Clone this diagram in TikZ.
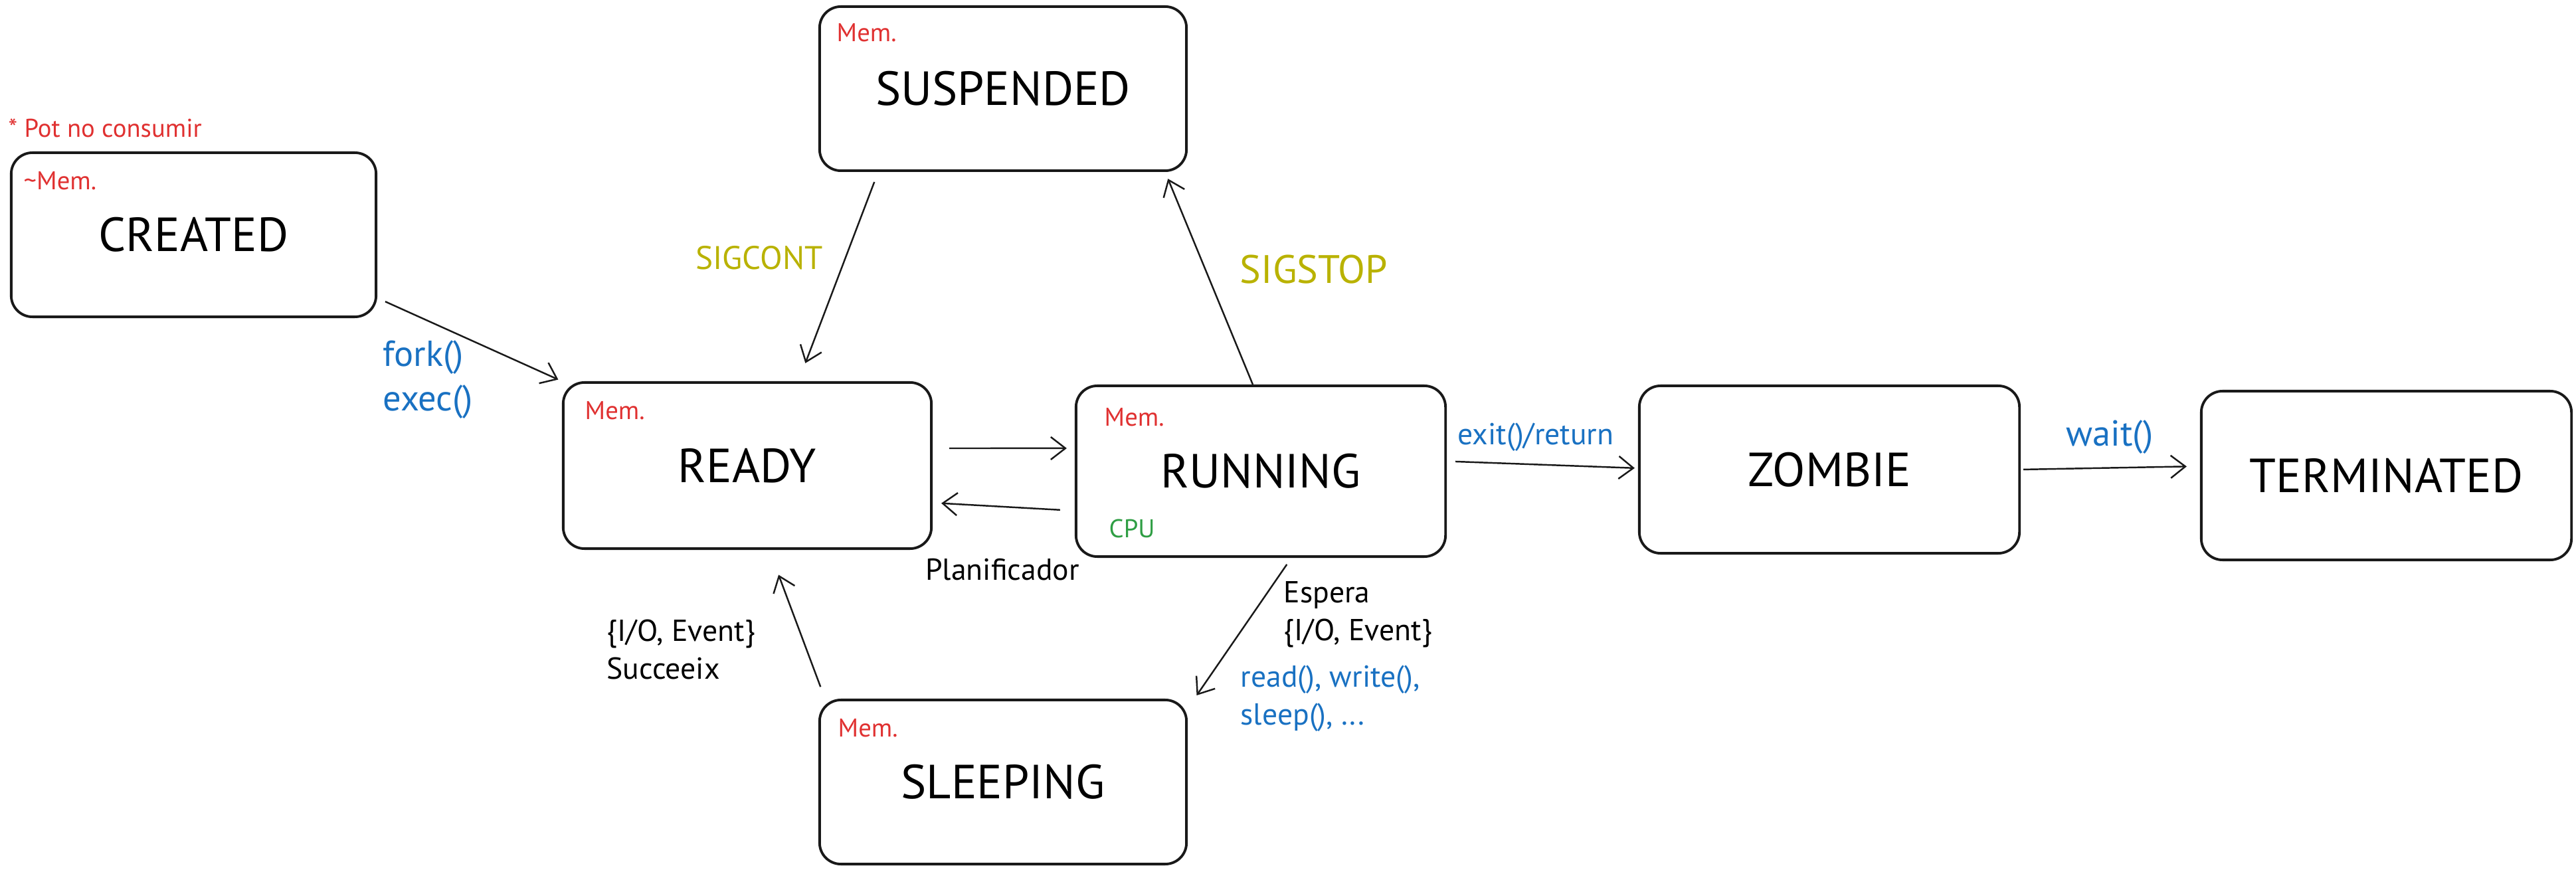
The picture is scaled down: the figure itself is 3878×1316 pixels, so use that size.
\documentclass[tikz,border=0pt]{standalone}
\usepackage{fontspec}
\setmainfont{PT Sans}
\usetikzlibrary{arrows.meta}
\definecolor{memred}{HTML}{E03131}
\definecolor{callblue}{HTML}{1971C2}
\definecolor{cpugreen}{HTML}{2F9E44}
\definecolor{sigyellow}{RGB}{185,178,0}
\begin{document}
\begin{tikzpicture}[x=0.01cm, y=-0.01cm,
		state/.style={draw=black!90, line width=1.1pt, rounded corners=0.32cm, minimum width=5.52cm, minimum height=2.48cm, font=\fontsize{20.5}{24}\selectfont},
		mem/.style={anchor=west, inner sep=0pt, text=memred, font=\fontsize{11}{13}\selectfont},
		lbl/.style={inner sep=0pt, align=left, font=\fontsize{13}{16.2}\selectfont},
		biglbl/.style={inner sep=0pt, align=left, font=\fontsize{15.5}{19}\selectfont},
		trans/.style={-{Straight Barb[length=0.22cm, width=0.34cm]}, line width=0.7pt, draw=black!90}]
		\useasboundingbox (0,0) rectangle (3878,1316);

		\node[state, minimum width=5.49cm, minimum height=2.47cm] (created) at (291.5,353.5) {CREATED};
		\node[state, minimum height=2.47cm] (suspended) at (1510,133.5) {SUSPENDED};
		\node[state, minimum width=5.54cm, minimum height=2.5cm] (ready) at (1125,701) {READY};
		\node[state, minimum width=5.56cm, minimum height=2.57cm] (running) at (1898,709.5) {RUNNING};
		\node[state, minimum width=5.72cm, minimum height=2.52cm] (zombie) at (2754,707) {ZOMBIE};
		\node[state, minimum width=5.57cm, minimum height=2.54cm] (terminated) at (3592.5,716) {TERMINATED};
		\node[state, minimum height=2.47cm] (sleeping) at (1510,1177.5) {SLEEPING};

		\node[mem] (note) at (12,193) {* Pot no consumir};
		\node[mem] (creatmem) at (35,272) {\textasciitilde Mem.};
		\node[mem] (suspmem) at (1259,49) {Mem.};
		\node[mem] (readymem) at (880,618) {Mem.};
		\node[mem] (runmem) at (1662,628) {Mem.};
		\node[mem, text=cpugreen] (runcpu) at (1669,796) {CPU};
		\node[mem] (sleepmem) at (1261,1096) {Mem.};

		\draw[trans, shorten <=0.13cm, shorten >=0.06cm] (created.-19) -- (ready.north west);
		\draw[trans, shorten <=0.16cm, shorten >=0.29cm] ([xshift=0.9cm]suspended.south west) -- ([xshift=0.77cm]ready.north);
		\draw[trans, shorten >=0.11cm] ([xshift=-0.12cm]running.north) -- ([xshift=-0.34cm]suspended.south east);
		\draw[trans, shorten <=0.25cm, shorten >=0.12cm] ([yshift=0.26cm]ready.east) -- ([yshift=0.345cm]running.west);
		\draw[trans, shorten <=0.22cm, shorten >=0.13cm] ([yshift=-0.595cm]running.west) -- ([yshift=-0.56cm]ready.east);
		\draw[trans, shorten <=0.12cm, shorten >=0.06cm] ([xshift=0.46cm]running.south) -- ([xshift=0.1cm]sleeping.north east);
		\draw[trans, shorten <=0.19cm, shorten >=0.4cm] ([xshift=0.1cm]sleeping.north west) -- ([xshift=0.33cm]ready.south);
		\draw[trans, shorten <=0.13cm, shorten >=0.05cm] ([yshift=0.15cm]running.east) -- ([yshift=0.02cm]zombie.west);
		\draw[trans, shorten <=0.04cm, shorten >=0.2cm] (zombie.east) -- ([yshift=0.14cm]terminated.west);

		\node[biglbl, anchor=west, text=callblue] (forklbl) at (576,572) {fork()\\exec()};
		\node[lbl, text=sigyellow, font=\fontsize{14}{16}\selectfont] (contlbl) at (1143,388) {SIGCONT};
		\node[biglbl, text=sigyellow, font=\fontsize{17}{20}\selectfont] (stoplbl) at (1978,406) {SIGSTOP};
		\node[lbl] (planlbl) at (1509,858) {Planificador};
		\node[lbl, anchor=west] (esperalbl) at (1932,925) {Espera\\\{I/O, Event\}};
		\node[lbl, anchor=west, text=callblue] (callslbl) at (1867,1052) {read(), write(),\\sleep(), ...};
		\node[lbl, anchor=west] (succlbl) at (913,978) {\{I/O, Event\}\\Succeeix};
		\node[lbl, anchor=west, text=callblue] (exitlbl) at (2194,658) {exit()/return};
		\node[biglbl, text=callblue] (waitlbl) at (3176,658) {wait()};
\end{tikzpicture}
\end{document}
